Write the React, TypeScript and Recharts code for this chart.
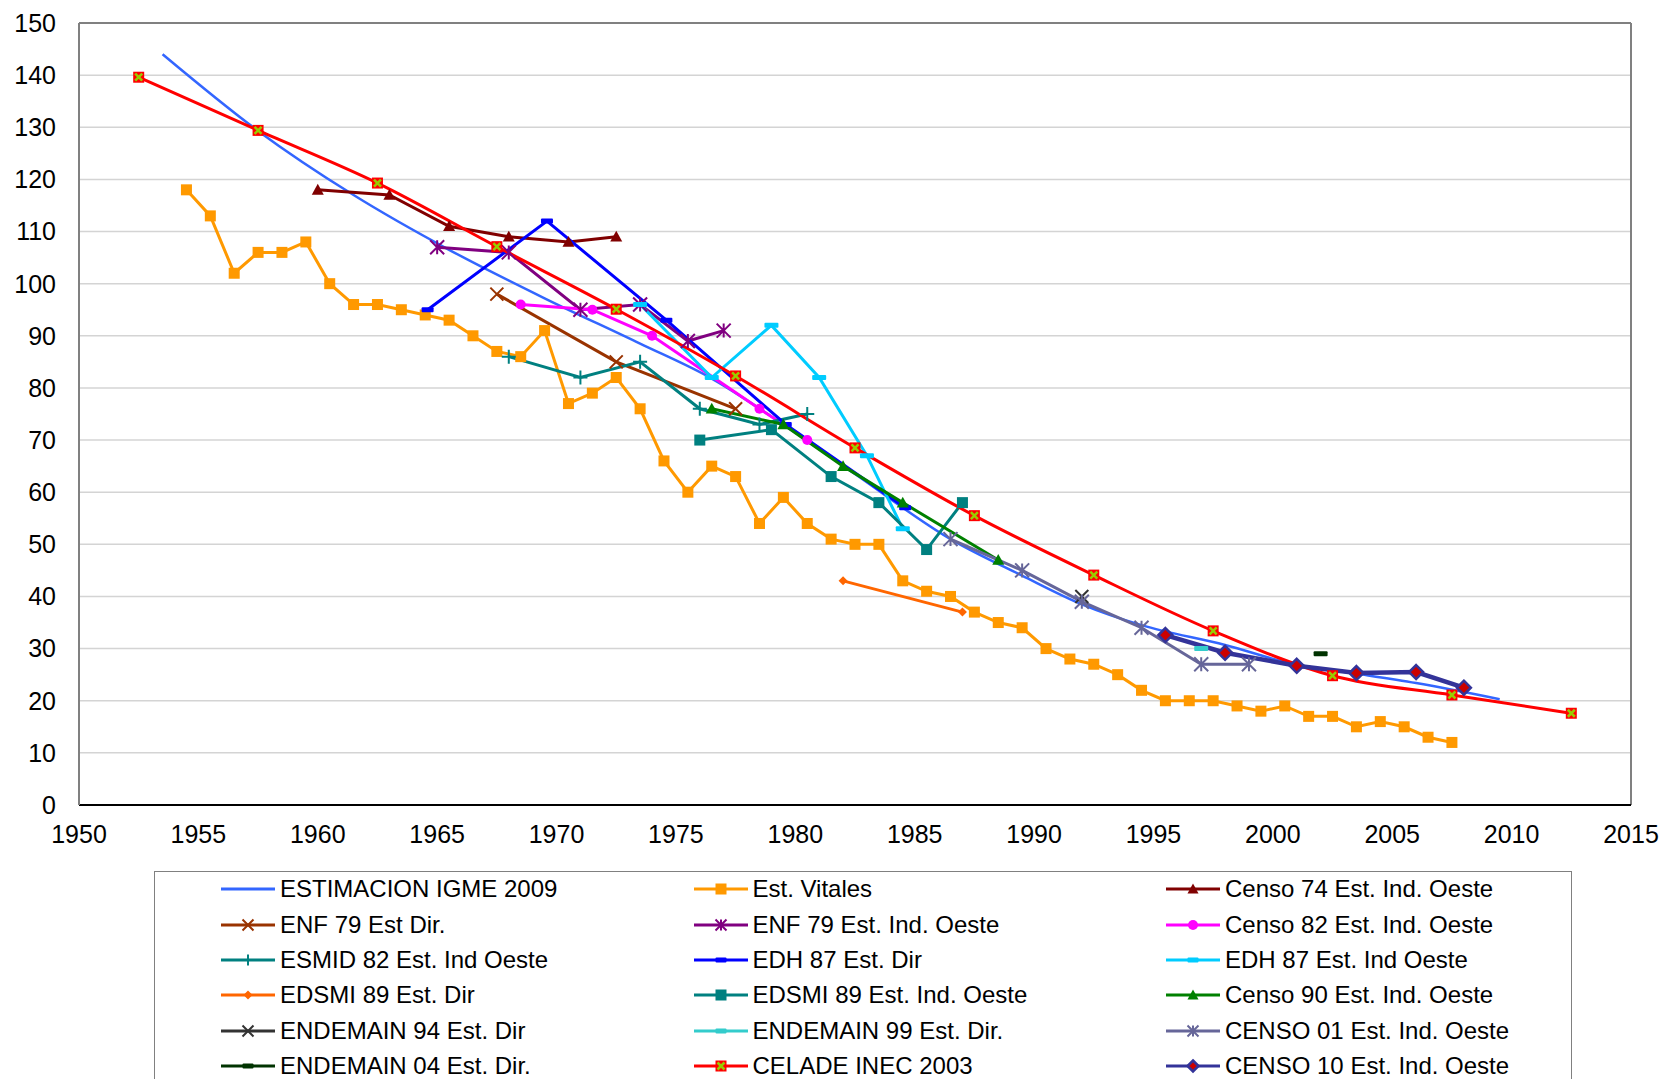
import React from "react";
import { LineChart, Line, XAxis, YAxis, CartesianGrid, ReferenceLine } from "recharts";

const FONT = "Arial, 'Liberation Sans', sans-serif";

const xTicks = [1950, 1955, 1960, 1965, 1970, 1975, 1980, 1985, 1990, 1995, 2000, 2005, 2010, 2015];
const yTicks = [0, 10, 20, 30, 40, 50, 60, 70, 80, 90, 100, 110, 120, 130, 140, 150];

// ESTIMACION IGME 2009
const igmeYears = [1953.5, 1957.5, 1961.5, 1965.5, 1969.5, 1973.5, 1976.5, 1979.5, 1982.5, 1986.5, 1989.5, 1992, 1994.5, 1998, 2001, 2003.5, 2006, 2009.5];
const igmeRates = [144, 129.3, 117, 106.5, 97.2, 88.5, 81.8, 73, 63.5, 51, 44, 38.5, 34.5, 30.7, 26.9, 25.2, 23.4, 20.3];

// Est. Vitales
const vitYears = [1954.5, 1955.5, 1956.5, 1957.5, 1958.5, 1959.5, 1960.5, 1961.5, 1962.5, 1963.5, 1964.5, 1965.5, 1966.5, 1967.5, 1968.5, 1969.5, 1970.5, 1971.5, 1972.5, 1973.5, 1974.5, 1975.5, 1976.5, 1977.5, 1978.5, 1979.5, 1980.5, 1981.5, 1982.5, 1983.5, 1984.5, 1985.5, 1986.5, 1987.5, 1988.5, 1989.5, 1990.5, 1991.5, 1992.5, 1993.5, 1994.5, 1995.5, 1996.5, 1997.5, 1998.5, 1999.5, 2000.5, 2001.5, 2002.5, 2003.5, 2004.5, 2005.5, 2006.5, 2007.5];
const vitRates = [118, 113, 102, 106, 106, 108, 100, 96, 96, 95, 94, 93, 90, 87, 86, 91, 77, 79, 82, 76, 66, 60, 65, 63, 54, 59, 54, 51, 50, 50, 43, 41, 40, 37, 35, 34, 30, 28, 27, 25, 22, 20, 20, 20, 19, 18, 19, 17, 17, 15, 16, 15, 13, 12];

const c74Years = [1960, 1963, 1965.5, 1968, 1970.5, 1972.5];
const c74Rates = [118, 117, 111, 109, 108, 109];

const enfDirYears = [1967.5, 1972.5, 1977.5];
const enfDirRates = [98, 85, 76];

const enfIndYears = [1965, 1968, 1971, 1973.5, 1975.5, 1977];
const enfIndRates = [107, 106, 95, 96, 89, 91];

const c82Years = [1968.5, 1971.5, 1974, 1978.5, 1980.5];
const c82Rates = [96, 95, 90, 76, 70];

const esmidYears = [1968, 1971, 1973.5, 1976, 1978.5, 1980.5];
const esmidRates = [86, 82, 85, 76, 73, 75];

const edhDirYears = [1964.6, 1969.6, 1974.6, 1979.6, 1984.6];
const edhDirRates = [95, 112, 93, 73, 57];

const edhIndYears = [1973.5, 1976.5, 1979, 1981, 1983, 1984.5];
const edhIndRates = [96, 82, 92, 82, 67, 53];

const edsmiDirYears = [1982, 1987];
const edsmiDirRates = [43, 37];

const edsmiIndYears = [1976, 1979, 1981.5, 1983.5, 1985.5, 1987];
const edsmiIndRates = [70, 72, 63, 58, 49, 58];

const c90Years = [1976.5, 1979.5, 1982, 1984.5, 1988.5];
const c90Rates = [76, 73, 65, 58, 47];

const end94Years = [1992];
const end94Rates = [40];

const end99Years = [1997];
const end99Rates = [30];

const c01Years = [1986.5, 1989.5, 1992, 1994.5, 1997, 1999];
const c01Rates = [51, 45, 39, 34, 27, 27];

const end04Years = [2002];
const end04Rates = [29];

const celadeYears = [1952.5, 1957.5, 1962.5, 1967.5, 1972.5, 1977.5, 1982.5, 1987.5, 1992.5, 1997.5, 2002.5, 2007.5, 2012.5];
const celadeRates = [139.6, 129.4, 119.3, 107.1, 95.1, 82.3, 68.5, 55.5, 44.1, 33.4, 24.8, 21.1, 17.6];

const c10Years = [1995.5, 1998, 2001, 2003.5, 2006, 2008];
const c10Rates = [32.6, 29.2, 26.7, 25.3, 25.5, 22.5];

type Shape = "none" | "square" | "triangle" | "cross" | "star" | "circle" | "plus" | "dash" | "diamond" | "celade" | "bigDiamond";

interface Serie {
  name: string;
  years: number[];
  rates: number[];
  color: string;
  width: number;
  shape: Shape;
  size: number;
  smooth?: boolean;
}

const series: Serie[] = [
  { name: "ESTIMACION IGME 2009", years: igmeYears, rates: igmeRates, color: "#3366FF", width: 2.5, shape: "none", size: 0, smooth: true },
  { name: "Est. Vitales", years: vitYears, rates: vitRates, color: "#FF9900", width: 3, shape: "square", size: 11 },
  { name: "Censo 74 Est. Ind. Oeste", years: c74Years, rates: c74Rates, color: "#800000", width: 3, shape: "triangle", size: 12 },
  { name: "ENF 79 Est Dir.", years: enfDirYears, rates: enfDirRates, color: "#993300", width: 3, shape: "cross", size: 13 },
  { name: "ENF 79 Est. Ind. Oeste", years: enfIndYears, rates: enfIndRates, color: "#800080", width: 3, shape: "star", size: 14 },
  { name: "Censo 82 Est. Ind. Oeste", years: c82Years, rates: c82Rates, color: "#FF00FF", width: 3, shape: "circle", size: 10 },
  { name: "ESMID 82 Est. Ind Oeste", years: esmidYears, rates: esmidRates, color: "#008080", width: 3, shape: "plus", size: 14 },
  { name: "EDH 87 Est. Dir", years: edhDirYears, rates: edhDirRates, color: "#0000FF", width: 3, shape: "dash", size: 12 },
  { name: "EDH 87 Est. Ind Oeste", years: edhIndYears, rates: edhIndRates, color: "#00CCFF", width: 3, shape: "dash", size: 14 },
  { name: "EDSMI 89 Est. Dir", years: edsmiDirYears, rates: edsmiDirRates, color: "#FF6600", width: 3, shape: "diamond", size: 9 },
  { name: "EDSMI 89 Est. Ind. Oeste", years: edsmiIndYears, rates: edsmiIndRates, color: "#008080", width: 3, shape: "square", size: 11 },
  { name: "Censo 90 Est. Ind. Oeste", years: c90Years, rates: c90Rates, color: "#008000", width: 3, shape: "triangle", size: 12 },
  { name: "ENDEMAIN 94 Est. Dir", years: end94Years, rates: end94Rates, color: "#333333", width: 3, shape: "cross", size: 13 },
  { name: "ENDEMAIN 99 Est. Dir.", years: end99Years, rates: end99Rates, color: "#33CCCC", width: 3, shape: "dash", size: 14 },
  { name: "CENSO 01 Est. Ind. Oeste", years: c01Years, rates: c01Rates, color: "#666699", width: 3, shape: "star", size: 14 },
  { name: "ENDEMAIN 04 Est. Dir.", years: end04Years, rates: end04Rates, color: "#003300", width: 3, shape: "dash", size: 14 },
  { name: "CELADE INEC 2003", years: celadeYears, rates: celadeRates, color: "#FF0000", width: 3, shape: "celade", size: 11, smooth: true },
  { name: "CENSO 10 Est. Ind. Oeste", years: c10Years, rates: c10Rates, color: "#333399", width: 4.5, shape: "bigDiamond", size: 14 },
];

const toPoints = (xs: number[], ys: number[]) => xs.map((x, i) => ({ x, y: ys[i] }));

const Marker = ({ shape, cx, cy, color, size }: { shape: Shape; cx: number; cy: number; color: string; size: number }) => {
  const s = size / 2;
  switch (shape) {
    case "square":
      return <rect x={cx - s} y={cy - s} width={size} height={size} fill={color} />;
    case "triangle":
      return <polygon points={`${cx},${cy - s} ${cx + s},${cy + s * 0.8} ${cx - s},${cy + s * 0.8}`} fill={color} />;
    case "cross":
      return <path d={`M${cx - s},${cy - s}L${cx + s},${cy + s}M${cx - s},${cy + s}L${cx + s},${cy - s}`} stroke={color} strokeWidth={2} />;
    case "star":
      return (
        <path
          d={`M${cx - s},${cy - s}L${cx + s},${cy + s}M${cx - s},${cy + s}L${cx + s},${cy - s}M${cx},${cy - s}L${cx},${cy + s}`}
          stroke={color}
          strokeWidth={2}
        />
      );
    case "circle":
      return <circle cx={cx} cy={cy} r={s} fill={color} />;
    case "plus":
      return <path d={`M${cx - s},${cy}L${cx + s},${cy}M${cx},${cy - s}L${cx},${cy + s}`} stroke={color} strokeWidth={2} />;
    case "dash":
      return <rect x={cx - s} y={cy - 2.5} width={size} height={5} rx={1} fill={color} />;
    case "diamond":
      return <polygon points={`${cx},${cy - s} ${cx + s},${cy} ${cx},${cy + s} ${cx - s},${cy}`} fill={color} />;
    case "celade":
      return (
        <g>
          <rect x={cx - s} y={cy - s} width={size} height={size} fill="#FF0000" />
          <path d={`M${cx - s + 2},${cy - s + 2}L${cx + s - 2},${cy + s - 2}M${cx - s + 2},${cy + s - 2}L${cx + s - 2},${cy - s + 2}`} stroke="#99CC00" strokeWidth={2.5} />
        </g>
      );
    case "bigDiamond":
      return (
        <polygon
          points={`${cx},${cy - s} ${cx + s},${cy} ${cx},${cy + s} ${cx - s},${cy}`}
          fill="#CC0000"
          stroke="#333399"
          strokeWidth={2.5}
        />
      );
    default:
      return null;
  }
};

const ChartLegend = () => (
  <div
    style={{
      position: "absolute",
      left: 154,
      top: 871,
      width: 1416,
      height: 240,
      border: "1px solid #808080",
      background: "#fff",
      fontFamily: FONT,
      fontSize: 24,
      color: "#000",
    }}
  >
    {series.map((s, i) => {
      const col = i % 3;
      const row = Math.floor(i / 3);
      return (
        <div
          key={s.name}
          style={{
            position: "absolute",
            left: 66 + col * 472.5,
            top: 17.3 + row * 35.3 - 15,
            height: 30,
            display: "flex",
            alignItems: "center",
            whiteSpace: "nowrap",
          }}
        >
          <svg width={54} height={30}>
            <line x1={0} x2={54} y1={15} y2={15} stroke={s.color} strokeWidth={3} />
            {s.shape !== "none" && <Marker shape={s.shape} cx={27} cy={15} color={s.color} size={Math.min(s.size, 11)} />}
          </svg>
          <span style={{ marginLeft: 5, lineHeight: "30px" }}>{s.name}</span>
        </div>
      );
    })}
  </div>
);

export default function App() {
  return (
    <div style={{ position: "absolute", left: 0, top: 0, width: 1664, height: 1079, overflow: "hidden", background: "#fff" }}>
      <LineChart width={1664} height={850} margin={{ top: 23, right: 33, bottom: 0, left: 0 }}>
        <CartesianGrid horizontal vertical={false} stroke="#D4D4D4" strokeWidth={1.5} />
        <XAxis
          type="number"
          dataKey="x"
          domain={[1950, 2015]}
          ticks={xTicks}
          interval={0}
          allowDataOverflow
          height={45}
          axisLine={{ stroke: "#000", strokeWidth: 2 }}
          tickLine={false}
          tickSize={0}
          tickMargin={20}
          tick={{ fontSize: 25, fill: "#000", fontFamily: FONT }}
        />
        <YAxis
          type="number"
          domain={[0, 150]}
          ticks={yTicks}
          interval={0}
          width={79}
          axisLine={{ stroke: "#808080", strokeWidth: 2 }}
          tickLine={false}
          tickSize={0}
          tickMargin={23}
          tick={{ fontSize: 25, fill: "#000", fontFamily: FONT }}
        />
        <ReferenceLine y={150} stroke="#808080" strokeWidth={2} />
        <ReferenceLine x={2015} stroke="#808080" strokeWidth={2} />
        {series.map((s) => (
          <Line
            key={s.name}
            name={s.name}
            data={toPoints(s.years, s.rates)}
            dataKey="y"
            type={s.smooth ? "monotone" : "linear"}
            stroke={s.color}
            strokeWidth={s.width}
            activeDot={false}
            isAnimationActive={false}
            dot={
              s.shape === "none"
                ? false
                : (p: any) => (
                    <Marker key={`${s.name}-${p.index}`} shape={s.shape} cx={p.cx} cy={p.cy} color={s.color} size={s.size} />
                  )
            }
          />
        ))}
      </LineChart>
      <ChartLegend />
    </div>
  );
}
